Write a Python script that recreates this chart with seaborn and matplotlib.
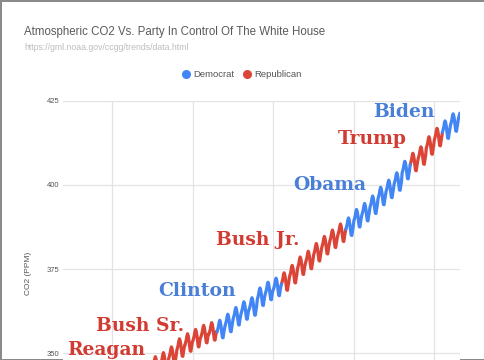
import numpy as np
import pandas as pd
import matplotlib
matplotlib.use("Agg")
import matplotlib.pyplot as plt
from matplotlib.lines import Line2D
import seaborn as sns

years = list(range(1974, 2024))
annual_mean_ppm = [330.2, 331.1, 332.0, 333.8, 335.4, 336.8, 338.8, 340.1, 341.5, 343.2,
                   344.9, 346.4, 347.6, 349.3, 351.7, 353.2, 354.5, 355.7, 356.5, 357.2,
                   359.0, 361.0, 362.7, 363.9, 366.8, 368.5, 369.7, 371.3, 373.5, 376.0,
                   377.7, 380.0, 382.1, 384.0, 385.8, 387.6, 390.1, 391.9, 394.1, 396.7,
                   398.8, 401.0, 404.4, 406.8, 408.7, 411.7, 414.2, 416.4, 418.5, 420.6]
monthly_offset_ppm = [-0.8, -0.1, 0.7, 1.9, 2.6, 2.0, 0.8, -1.0, -2.5, -2.6, -1.2, 0.0]
last_month_2023 = 3

term_names = ["Nixon/Ford", "Carter", "Reagan", "Bush Sr.", "Clinton", "Bush Jr.", "Obama", "Trump", "Biden"]
term_starts = [1974.0, 1977.05, 1981.05, 1989.05, 1993.05, 2001.05, 2009.05, 2017.05, 2021.05]
term_party = ["Republican", "Democrat", "Republican", "Republican", "Democrat",
              "Republican", "Democrat", "Republican", "Democrat"]

y_ticks = [350, 375, 400, 425]
x_grid_years = [1980, 1990, 2000, 2010, 2020]

label_names = ["Biden", "Trump", "Obama", "Bush Jr.", "Clinton", "Bush Sr.", "Reagan"]
label_x = [2016.3, 2012.3, 2007.1, 1998.1, 1990.6, 1983.5, 1979.3]
label_y = [420.2, 412.1, 398.5, 382.2, 367.0, 356.6, 349.6]
label_party = ["Democrat", "Republican", "Democrat", "Republican", "Democrat", "Republican", "Republican"]

# ---- build monthly table ----
xs, vals = [], []
for yr, mean in zip(years, annual_mean_ppm):
    nm = last_month_2023 if yr == 2023 else 12
    for m in range(nm):
        xs.append(yr + (m + 0.5) / 12)
        vals.append(mean + monthly_offset_ppm[m])
xs = np.array(xs)
vals = np.array(vals)

rows = []
bounds = term_starts[1:] + [9999]
for i, (name, start, end, party) in enumerate(zip(term_names, term_starts, bounds, term_party)):
    idx = list(np.where((xs >= start) & (xs < end))[0])
    if i > 0 and idx and idx[0] > 0:
        idx = [idx[0] - 1] + idx
    for j in idx:
        rows.append({"year": xs[j], "ppm": vals[j], "term": name, "party": party})
df = pd.DataFrame(rows)

BLUE = "#4285f4"
RED = "#db4437"
TBLUE = "#4a7fd8"
TRED = "#d23b32"
palette = {"Democrat": BLUE, "Republican": RED}

sns.set_theme(style="white")
plt.rcParams["font.family"] = ["Liberation Sans", "DejaVu Sans"]

fig = plt.figure(figsize=(4.85, 3.6), dpi=100)
fig.patch.set_facecolor("white")
fig.patch.set_edgecolor("#8a8a8a")
fig.patch.set_linewidth(2)

W, H = 485.0, 360.0
left, right = 63 / W, 460 / W
top = 1 - 100.7 / H
bottom = 1 - 437.5 / H
ax = fig.add_axes([left, bottom, right - left, top - bottom])

sns.lineplot(data=df, x="year", y="ppm", hue="party", units="term", estimator=None,
             palette=palette, linewidth=2.3, legend=False, ax=ax, sort=False)

ax.set_xlim(1973.9, 2023.23)
ax.set_ylim(325, 425)
ax.set_yticks(y_ticks)
ax.set_xticks(x_grid_years)
ax.set_xticklabels([])
ax.grid(True, color="#e3e3e3", linewidth=0.9)
ax.set_axisbelow(True)
for s in ax.spines.values():
    s.set_visible(False)
ax.tick_params(axis="y", length=0, pad=2.5, labelsize=5.5, labelcolor="#555555")
ax.tick_params(axis="x", length=0)
ax.set_xlabel("")
ax.set_ylabel("")

for name, x, y, party in zip(label_names, label_x, label_y, label_party):
    ax.text(x, y, name, ha="center", va="baseline", fontsize=13.5, fontweight="bold",
            family="DejaVu Serif", color=TBLUE if party == "Democrat" else TRED, clip_on=False)

fig.text(29 / W, 1 - 273 / H, "CO2 (PPM)", rotation=90, ha="center", va="center",
         fontsize=6, color="#555555")

fig.text(24 / W, 1 - 31.5 / H, "Atmospheric CO2 Vs. Party In Control Of The White House",
         ha="left", va="center", fontsize=8.3, color="#5a5a5a")
fig.text(24 / W, 1 - 48 / H, "https://gml.noaa.gov/ccgg/trends/data.html",
         ha="left", va="center", fontsize=6.3, color="#bdbdbd")

handles = [Line2D([], [], marker="o", linestyle="", markersize=5.5, color=BLUE),
           Line2D([], [], marker="o", linestyle="", markersize=5.5, color=RED)]
fig.legend(handles, ["Democrat", "Republican"], loc="center", bbox_to_anchor=(0.498, 1 - 74.5 / H),
           ncol=2, frameon=False, fontsize=6.8, handletextpad=0.3, columnspacing=0.8,
           handlelength=1.0, labelcolor="#555555")

fig.savefig("out.png", dpi=100)
